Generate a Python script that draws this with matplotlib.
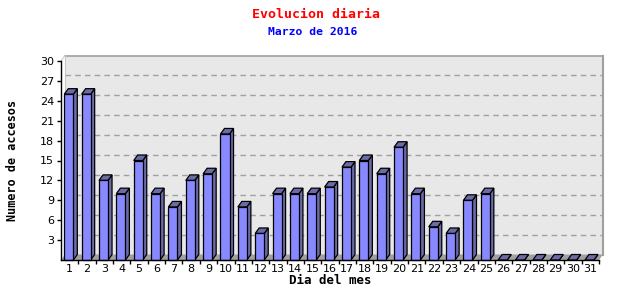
import matplotlib.pyplot as plt
from matplotlib.patches import Polygon, Rectangle

# Data
days = list(range(1, 32))
visits = [25, 25, 12, 10, 15, 10, 8, 12, 13, 19, 8, 4, 10, 10, 10, 11,
          14, 15, 13, 17, 10, 5, 4, 9, 10, 0, 0, 0, 0, 0, 0]
y_ticks = [3, 6, 9, 12, 15, 18, 21, 24, 27, 30]

W, H = 640, 300
fig = plt.figure(figsize=(6.4, 3.0), dpi=100)
fig.patch.set_facecolor("white")

# front plane of the plot in pixels
left, right, top, bottom = 61, 599, 61, 260
ax = fig.add_axes([left / W, 1 - bottom / H, (right - left) / W, (bottom - top) / H])
ax.set_xlim(0.5, 31.5)
ax.set_ylim(0, 30)
ax.patch.set_visible(False)
for s in ["top", "right", "bottom"]:
    ax.spines[s].set_visible(False)
ax.spines["left"].set_color("black")
ax.spines["left"].set_linewidth(1)

# pixel -> data scale, 3D depth offset
sx = 31.0 / (right - left)
sy = 30.0 / (bottom - top)
dx, dy = 4 * sx, 5.5 * sy
x0, x1 = 0.5, 31.5

# back plane
ax.add_patch(Polygon([(x0 + dx, dy), (x1 + dx, dy), (x1 + dx, 30 + dy), (x0 + dx, 30 + dy)],
                     closed=True, facecolor="#e8e8e8", edgecolor="none", clip_on=False, zorder=0))
ax.plot([x0 + dx, x1 + dx], [30 + dy, 30 + dy], color="#a0a0a0", lw=1.2, clip_on=False, zorder=1)
ax.plot([x1 + dx, x1 + dx], [dy, 30 + dy], color="#a0a0a0", lw=1.5, clip_on=False, zorder=1)
ax.plot([x0 + dx, x0 + dx], [dy, 30 + dy], color="#c8c8c8", lw=0.8, clip_on=False, zorder=1)
ax.plot([x0, x0 + dx], [30, 30 + dy], color="#c8c8c8", lw=0.8, clip_on=False, zorder=1)

# floor
ax.add_patch(Polygon([(x0, 0), (x1, 0), (x1 + dx, dy), (x0 + dx, dy)], closed=True,
                     facecolor="#a0a0a0", edgecolor="none", clip_on=False, zorder=1))

# grid on back plane
for t in y_ticks[:-1]:
    ax.plot([x0 + dx, x1 + dx], [t + dy, t + dy], color="#a0a0a0", lw=1,
            ls=(0, (4, 3)), clip_on=False, zorder=1)

# 3D bars
w = 0.52
front_c, dark_c = "#8888ff", "#6b6ba8"
for d, v in zip(days, visits):
    xl, xr = d - 0.5 * w - 0.05, d + 0.5 * w - 0.05
    ax.add_patch(Polygon([(xr, 0), (xr + dx, dy), (xr + dx, v + dy), (xr, v)], closed=True,
                         facecolor=dark_c, edgecolor="black", lw=0.9, clip_on=False, zorder=3))
    ax.add_patch(Polygon([(xl, v), (xr, v), (xr + dx, v + dy), (xl + dx, v + dy)], closed=True,
                         facecolor=dark_c, edgecolor="black", lw=0.9, clip_on=False, zorder=3))
    if v > 0:
        ax.add_patch(Rectangle((xl, 0), xr - xl, v, facecolor=front_c,
                               edgecolor="black", lw=0.9, clip_on=False, zorder=4))

# x axis line
ax.plot([x0, x1], [0, 0], color="black", lw=1, clip_on=False, zorder=5)

# ticks
ax.set_yticks(y_ticks)
ax.set_yticklabels([str(t) for t in y_ticks], fontsize=8, fontfamily="DejaVu Sans")
ax.tick_params(axis="y", direction="out", length=3, width=1, pad=2)
ax.set_xticks(days)
ax.set_xticklabels([str(d) for d in days], fontsize=8, fontfamily="DejaVu Sans")
ax.tick_params(axis="x", length=0, pad=3)
ax.set_xticks([d + 0.5 for d in days], minor=True)
ax.tick_params(axis="x", which="minor", direction="out", length=3, width=1)

ax.set_xlabel("Dia del mes", fontsize=9, fontweight="bold", fontfamily="DejaVu Sans Mono", labelpad=0)
ax.set_ylabel("Numero de accesos", fontsize=8.5, fontweight="bold", fontfamily="DejaVu Sans Mono", labelpad=15)

fig.text(316 / W, 1 - 14 / H, "Evolucion diaria", color="red", fontsize=9.5, fontweight="bold",
         fontfamily="DejaVu Sans Mono", ha="center", va="center")
fig.text(313 / W, 1 - 32 / H, "Marzo de 2016", color="blue", fontsize=8.2, fontweight="bold",
         fontfamily="DejaVu Sans Mono", ha="center", va="center")

fig.savefig("out.png", dpi=100)
